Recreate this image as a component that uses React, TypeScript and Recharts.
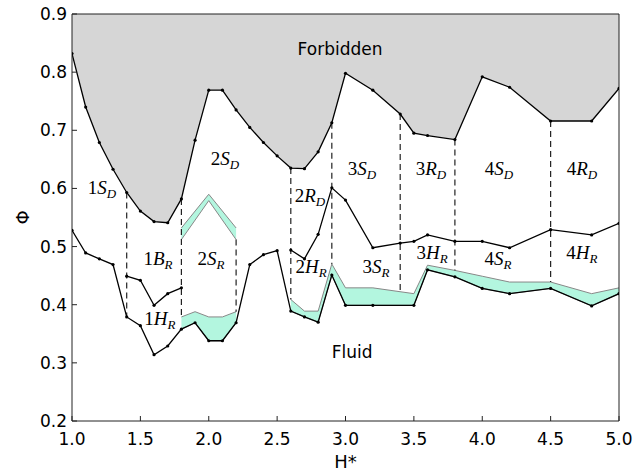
import React from "react";
import {
  ComposedChart,
  Area,
  Line,
  XAxis,
  YAxis,
  ReferenceLine,
  ReferenceDot,
} from "recharts";

// forbidden-region boundary (upper curve)
const boundH = [1.0, 1.1, 1.2, 1.3, 1.4, 1.5, 1.6, 1.7, 1.8, 1.9, 2.0, 2.1, 2.2, 2.3, 2.4, 2.5, 2.6, 2.7, 2.8, 2.9, 3.0, 3.2, 3.4, 3.5, 3.6, 3.8, 4.0, 4.2, 4.5, 4.8, 5.0];
const boundPhi = [0.832, 0.74, 0.679, 0.633, 0.593, 0.561, 0.543, 0.541, 0.582, 0.683, 0.769, 0.769, 0.735, 0.705, 0.679, 0.656, 0.635, 0.634, 0.663, 0.713, 0.798, 0.769, 0.728, 0.695, 0.691, 0.684, 0.792, 0.774, 0.716, 0.716, 0.772];

// fluid boundary (lower curve)
const fluidH = [1.0, 1.1, 1.2, 1.3, 1.4, 1.5, 1.6, 1.7, 1.8, 1.9, 2.0, 2.1, 2.2, 2.3, 2.4, 2.5, 2.6, 2.7, 2.8, 2.9, 3.0, 3.2, 3.5, 3.6, 3.8, 4.0, 4.2, 4.5, 4.8, 5.0];
const fluidPhi = [0.528, 0.489, 0.479, 0.469, 0.379, 0.364, 0.314, 0.329, 0.358, 0.369, 0.338, 0.338, 0.369, 0.469, 0.486, 0.493, 0.389, 0.379, 0.37, 0.451, 0.399, 0.399, 0.399, 0.46, 0.448, 0.428, 0.419, 0.428, 0.398, 0.419];

// rotator / solid boundaries
const rodAH = [1.4, 1.5, 1.6, 1.7, 1.8];
const rodAPhi = [0.449, 0.442, 0.399, 0.419, 0.429];
const rodBH = [2.6, 2.7, 2.8, 2.9, 3.0, 3.2, 3.4, 3.5, 3.6, 3.8, 4.0, 4.2, 4.5, 4.8, 5.0];
const rodBPhi = [0.494, 0.479, 0.521, 0.601, 0.58, 0.498, 0.506, 0.509, 0.52, 0.509, 0.509, 0.498, 0.529, 0.52, 0.54];

// coexistence bands
const band1H = [1.8, 1.9, 2.0, 2.1, 2.2];
const band1Lo = [0.358, 0.369, 0.338, 0.338, 0.369];
const band1Hi = [0.379, 0.388, 0.379, 0.379, 0.388];
const band2H = [1.8, 2.0, 2.2];
const band2Lo = [0.512, 0.579, 0.512];
const band2Hi = [0.532, 0.59, 0.532];
const band3H = [2.6, 2.7, 2.8, 2.9, 3.0, 3.2, 3.5, 3.6, 3.8, 4.0, 4.2, 4.5, 4.8, 5.0];
const band3Lo = [0.389, 0.379, 0.37, 0.451, 0.399, 0.399, 0.399, 0.46, 0.448, 0.428, 0.419, 0.428, 0.398, 0.419];
const band3Hi = [0.409, 0.389, 0.389, 0.47, 0.429, 0.429, 0.419, 0.468, 0.459, 0.449, 0.439, 0.439, 0.419, 0.429];

// dashed dividers
const divH = [1.4, 1.8, 2.2, 2.6, 2.9, 3.4, 3.8, 4.5];
const divTop = [0.593, 0.582, 0.512, 0.635, 0.713, 0.728, 0.684, 0.716];
const divBottom = [0.379, 0.379, 0.388, 0.409, 0.47, 0.424, 0.459, 0.439];

// phase labels: [digit, letter, subscript]
const phaseLabels = [
  ["1", "S", "D"], ["2", "S", "D"], ["2", "R", "D"], ["3", "S", "D"], ["3", "R", "D"], ["4", "S", "D"], ["4", "R", "D"],
  ["1", "B", "R"], ["2", "S", "R"], ["1", "H", "R"], ["2", "H", "R"], ["3", "S", "R"], ["3", "H", "R"], ["4", "S", "R"], ["4", "H", "R"],
];
const phaseH = [1.219, 2.119, 2.74, 3.121, 3.625, 4.122, 4.729, 1.629, 2.016, 1.643, 2.748, 3.223, 3.633, 4.115, 4.729];
const phasePhi = [0.59, 0.64, 0.576, 0.623, 0.623, 0.623, 0.623, 0.468, 0.468, 0.365, 0.454, 0.454, 0.478, 0.468, 0.478];

const xTicks = [1.0, 1.5, 2.0, 2.5, 3.0, 3.5, 4.0, 4.5, 5.0];
const yTicks = [0.2, 0.3, 0.4, 0.5, 0.6, 0.7, 0.8, 0.9];

const zip = (h: number[], v: number[]) => h.map((x, i) => ({ h: x, v: v[i] }));
const zipRange = (h: number[], lo: number[], hi: number[]) => h.map((x, i) => ({ h: x, r: [lo[i], hi[i]] }));

const forbiddenData = zipRange(boundH, boundPhi, boundH.map(() => 0.9));
const dotStyle = { r: 1.6, fill: "#000", stroke: "none" };
const tickFont = { fill: "#000", fontSize: 17, fontFamily: "DejaVu Sans" };

function MathLabel({ viewBox, parts }: any) {
  const [d, l, s] = parts;
  return (
    <text x={viewBox.x} y={viewBox.y} textAnchor="middle" fontFamily="Liberation Serif" fontSize={19} fill="#000">
      <tspan>{d}</tspan>
      <tspan fontStyle="italic">{l}</tspan>
      <tspan fontStyle="italic" fontSize={13} dy={4}>{s}</tspan>
    </text>
  );
}

function PlainLabel({ viewBox, text }: any) {
  return (
    <text x={viewBox.x} y={viewBox.y} textAnchor="middle" fontFamily="DejaVu Sans" fontSize={17} fill="#000">
      {text}
    </text>
  );
}

export default function App() {
  return (
    <div style={{ position: "absolute", left: 0, top: 0, background: "#fff" }}>
      <ComposedChart width={641} height={474} margin={{ top: 13, right: 0, bottom: 0, left: 0 }}>
        <XAxis
          dataKey="h"
          type="number"
          domain={[1, 5]}
          ticks={xTicks}
          allowDataOverflow
          tickFormatter={(v) => v.toFixed(1)}
          height={53}
          tickSize={-5}
          tickMargin={17}
          tick={tickFont}
          stroke="#222"
          tickLine={{ stroke: "#222" }}
          label={{ value: "H*", position: "insideBottom", offset: 6, fontSize: 18, fontFamily: "DejaVu Sans", fill: "#000" }}
        />
        <XAxis xAxisId="top" orientation="top" type="number" domain={[1, 5]} ticks={xTicks} height={1} tickSize={-5} tick={false} stroke="#222" />
        <YAxis
          type="number"
          domain={[0.2, 0.9]}
          ticks={yTicks}
          allowDataOverflow
          tickFormatter={(v) => v.toFixed(1)}
          width={72}
          tickSize={-5}
          tickMargin={10}
          tick={tickFont}
          stroke="#222"
          label={{
            content: (p: any) => (
              <text
                x={p.viewBox.x + 22}
                y={p.viewBox.y + p.viewBox.height / 2}
                textAnchor="middle"
                dominantBaseline="central"
                fontFamily="DejaVu Sans"
                fontSize={18}
                transform={`rotate(-90 ${p.viewBox.x + 22} ${p.viewBox.y + p.viewBox.height / 2})`}
              >
                Φ
              </text>
            ),
          }}
        />
        <YAxis yAxisId="right" orientation="right" type="number" domain={[0.2, 0.9]} ticks={yTicks} width={22} tickSize={-5} tick={false} stroke="#222" />

        <Area data={forbiddenData} dataKey="r" type="linear" fill="#d6d6d6" fillOpacity={1} stroke="none" isAnimationActive={false} activeDot={false} />
        <Area data={zipRange(band1H, band1Lo, band1Hi)} dataKey="r" type="linear" fill="#b3f6df" fillOpacity={1} stroke="#888" strokeWidth={1} isAnimationActive={false} activeDot={false} />
        <Area data={zipRange(band2H, band2Lo, band2Hi)} dataKey="r" type="linear" fill="#b3f6df" fillOpacity={1} stroke="#888" strokeWidth={1} isAnimationActive={false} activeDot={false} />
        <Area data={zipRange(band3H, band3Lo, band3Hi)} dataKey="r" type="linear" fill="#b3f6df" fillOpacity={1} stroke="#888" strokeWidth={1} isAnimationActive={false} activeDot={false} />

        {divH.map((h, i) => (
          <ReferenceLine
            key={"d" + i}
            segment={[{ x: h, y: divTop[i] }, { x: h, y: divBottom[i] }]}
            stroke="#222"
            strokeWidth={1.2}
            strokeDasharray="6 4"
          />
        ))}

        <Line data={zip(boundH, boundPhi)} dataKey="v" type="linear" stroke="#000" strokeWidth={1.3} dot={dotStyle} activeDot={false} isAnimationActive={false} />
        <Line data={zip(fluidH, fluidPhi)} dataKey="v" type="linear" stroke="#000" strokeWidth={1.3} dot={dotStyle} activeDot={false} isAnimationActive={false} />
        <Line data={zip(rodAH, rodAPhi)} dataKey="v" type="linear" stroke="#000" strokeWidth={1.3} dot={dotStyle} activeDot={false} isAnimationActive={false} />
        <Line data={zip(rodBH, rodBPhi)} dataKey="v" type="linear" stroke="#000" strokeWidth={1.3} dot={dotStyle} activeDot={false} isAnimationActive={false} />

        {phaseLabels.map((parts, i) => (
          <ReferenceDot key={"l" + i} x={phaseH[i]} y={phasePhi[i]} r={0} fill="none" stroke="none" label={(p: any) => <MathLabel viewBox={p.viewBox} parts={parts} />} />
        ))}
        <ReferenceDot x={2.96} y={0.829} r={0} fill="none" stroke="none" label={(p: any) => <PlainLabel viewBox={p.viewBox} text="Forbidden" />} />
        <ReferenceDot x={3.048} y={0.308} r={0} fill="none" stroke="none" label={(p: any) => <PlainLabel viewBox={p.viewBox} text="Fluid" />} />
      </ComposedChart>
    </div>
  );
}
